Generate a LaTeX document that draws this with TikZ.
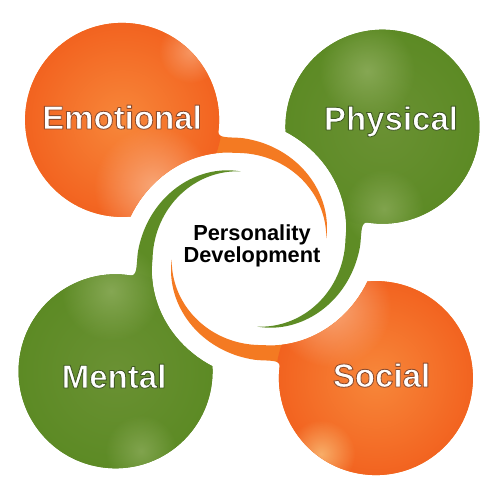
\documentclass[tikz,border=0pt]{standalone}
\usepackage{fontspec}
\setmainfont{Liberation Sans}
\usetikzlibrary{fadings}
\definecolor{orA}{HTML}{F2621F}
\definecolor{orB}{HTML}{F7873A}
\definecolor{orH}{HTML}{F9AD80}
\definecolor{orY}{HTML}{FAC07A}
\definecolor{orT}{HTML}{F47A22}
\definecolor{grA}{HTML}{5C8A24}
\definecolor{grB}{HTML}{6A9133}
\definecolor{grH}{HTML}{8FAE5E}
\definecolor{grT}{HTML}{5E8C25}
\tikzfading[name=softspot, inner color=transparent!0, outer color=transparent!100]
\newcommand\blobshape{(-30.66,116.94) arc[start angle=-7.2, end angle=275, radius=97]
  -- plot[domain=164.7:98, samples=25, variable=\x] (\x:{97+0.3875*(\x-98)})
  -- plot[domain=98:8, samples=40, variable=\x] (\x:{78+0.211*(\x-8)})
  -- plot[domain=8:93, samples=40, variable=\x] (\x:{78+0.3875*(\x-8)})
  .. controls (-15.7,112.2) and (-31.5,110.0) .. (-30.66,116.94) -- cycle}
\newcommand\outlined[2]{\special{pdf:literal direct 1 j 2 Tr 0.5 w #1 RG}#2\special{pdf:literal direct 0 Tr}}
\tikzset{
  lbl/.style={anchor=base, text=white, font=\fontsize{18.8}{20}\selectfont\bfseries},
  ctr/.style={align=center, text=black, inner sep=0pt, font=\fontsize{12.4}{10.5}\selectfont\bfseries},
  spot/.style={path fading=softspot}
}
\begin{document}
\begin{tikzpicture}[x=0.02cm,y=0.02cm]
\useasboundingbox (0,0) rectangle (500,500);
\fill[white] (0,0) rectangle (500,500);
\begin{scope}[shift={(249,251)}]
  % Emotional (orange, top-left)
  \begin{scope}
    \clip \blobshape;
    \fill[orT] (-260,-260) rectangle (260,260);
    \shade[inner color=orB, outer color=orA] (-126.9,129.1) circle (100);
    \fill[orH, spot, fill opacity=0.9] (-95,62) circle (60);
    \fill[orH, spot, fill opacity=0.7] (-58,198) circle (32);
  \end{scope}
  % Physical (green, top-right)
  \begin{scope}
    \clip[rotate=-92] \blobshape;
    \fill[grT] (-260,-260) rectangle (260,260);
    \shade[inner color=grB, outer color=grA] (133.4,122.3) circle (100);
    \fill[grH, spot, fill opacity=0.8] (118,178) circle (48);
    \fill[grH, spot, fill opacity=0.7] (135,40) circle (40);
  \end{scope}
  % Social (orange, bottom-right)
  \begin{scope}
    \clip[rotate=180] \blobshape;
    \fill[orT] (-260,-260) rectangle (260,260);
    \shade[inner color=orB, outer color=orA] (126.9,-129.1) circle (100);
    \fill[orH, spot, fill opacity=0.9] (82,-58) circle (60);
    \fill[orY, spot, fill opacity=0.8] (72,-205) circle (34);
  \end{scope}
  % Mental (green, bottom-left)
  \begin{scope}
    \clip[rotate=88] \blobshape;
    \fill[grT] (-260,-260) rectangle (260,260);
    \shade[inner color=grB, outer color=grA] (-133.4,-122.3) circle (100);
    \fill[grH, spot, fill opacity=0.8] (-138,-42) circle (50);
    \fill[grH, spot, fill opacity=0.7] (-108,-202) circle (36);
  \end{scope}
\end{scope}
% labels
\node[lbl] (emo) at (122,371) {\outlined{0.55 0.3 0.18}{Emotional}};
\node[lbl] (phy) at (391,370) {\outlined{0.25 0.35 0.14}{Physical}};
\node[lbl] (men) at (114,112) {\outlined{0.25 0.35 0.14}{Mental}};
\node[lbl] (soc) at (381.5,113) {\outlined{0.55 0.3 0.18}{Social}};
\node[ctr] (pd) at (252,254) {Personality\\Development};
\end{tikzpicture}
\end{document}
